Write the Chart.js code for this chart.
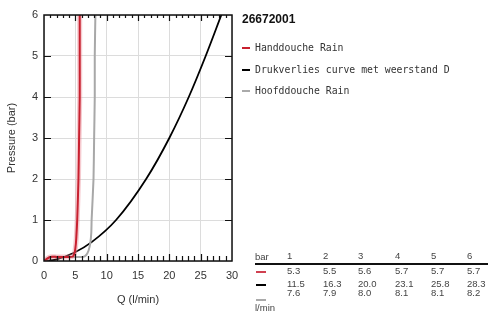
<!DOCTYPE html>
<html>
<head>
<meta charset="utf-8">
<script src="https://cdn.jsdelivr.net/npm/chart.js@4.4.1/dist/chart.umd.min.js"></script>
<style>
  body { margin: 0; background: #fff; }
  #wrap { position: relative; width: 500px; height: 322px; font-family: 'Liberation Sans', Arial, sans-serif; }
  #chart { position: absolute; left: 0; top: 0; }
  .t { position: absolute; white-space: nowrap; line-height: 12px; }
  .title { left: 242px; top: 12px; font-weight: bold; font-size: 12px; color: #111; }
  .leg { left: 255px; font-family: 'DejaVu Sans Mono', 'Liberation Mono', monospace; font-size: 9.8px; color: #333; }
  .mark { position: absolute; left: 242px; width: 8px; height: 2px; }
  .cell { font-size: 9.5px; color: #444; }
  .rule { position: absolute; left: 255px; top: 263px; width: 233px; height: 2px; background: #111; }
</style>
</head>
<body>
<div id="wrap">
  <canvas id="chart" width="500" height="322"></canvas>
</div>
<script>
// curves
const redQ = [0, 0.5, 1, 2, 3, 4, 4.6, 4.85, 5.0, 5.15, 5.3, 5.5, 5.6, 5.7, 5.7, 5.7]
const redP = [0, 0.06, 0.1, 0.1, 0.1, 0.1, 0.11, 0.18, 0.3, 0.55, 1, 2, 3, 4, 5, 6]
const grayQ = [0, 0.5, 1, 3, 5, 6.2, 6.7, 7.1, 7.4, 7.55, 7.6, 7.9, 8.0, 8.1, 8.1, 8.2]
const grayP = [0, 0.06, 0.1, 0.1, 0.1, 0.1, 0.14, 0.25, 0.45, 0.7, 1, 2, 3, 4, 5, 6]
const blackQ = [0, 2, 4.8, 7.6, 11.5, 16.3, 20.0, 23.1, 25.8, 28.3]
const blackP = [0, 0.04, 0.2, 0.46, 1, 2, 3, 4, 5, 6]

// table
const tableBar = [1, 2, 3, 4, 5, 6]
const tableRed = ['5.3', '5.5', '5.6', '5.7', '5.7', '5.7']
const tableBlack = ['11.5', '16.3', '20.0', '23.1', '25.8', '28.3']
const tableGray = ['7.6', '7.9', '8.0', '8.1', '8.1', '8.2']

const legendLabels = ['Handdouche Rain', 'Drukverlies curve met weerstand D', 'Hoofddouche Rain']
const legendColors = ['#c8202f', '#000', '#aaa']

function pts(q, p) {
  return q.map((v, i) => ({ x: v, y: p[i] }))
}

const wrap = document.getElementById('wrap')
function addText(cls, text, x, y) {
  const el = document.createElement('div')
  el.className = 't ' + cls
  el.textContent = text
  if (x !== null) el.style.left = x + 'px'
  el.style.top = (y - 6) + 'px'
  wrap.appendChild(el)
}
function addMark(color, x, y, w) {
  const el = document.createElement('div')
  el.className = 'mark'
  el.style.background = color
  el.style.left = x + 'px'
  el.style.top = (y - 1) + 'px'
  el.style.width = w + 'px'
  wrap.appendChild(el)
}

// legend
addText('title', '26672001', 242, 19)
const legY = [48, 70, 91]
legendLabels.forEach((l, i) => {
  addMark(legendColors[i], 242, legY[i], 8)
  addText('leg', l, 255, legY[i])
})

// table
const colX = [287, 323, 358, 395, 431, 467]
addText('cell', 'bar', 255, 257)
const rule = document.createElement('div')
rule.className = 'rule'
wrap.appendChild(rule)
tableBar.forEach((b, i) => {
  addText('cell', String(b), colX[i], 256)
  addText('cell', tableRed[i], colX[i], 271)
  addText('cell', tableBlack[i], colX[i], 284)
  addText('cell', tableGray[i], colX[i], 293)
})
addMark('#d04050', 256, 272, 10)
addMark('#000', 256, 285, 10)
addMark('#aaa', 256, 300, 10)
addText('cell', 'l/min', 255, 308)

const frameTicks = {
  id: 'frameTicks',
  afterDraw(chart) {
    const { ctx, chartArea: a, scales: { x, y } } = chart
    ctx.save()
    ctx.strokeStyle = '#111'
    ctx.lineWidth = 1.2
    ctx.beginPath()
    for (let q = 1; q < 30; q++) {
      const px = Math.round(x.getPixelForValue(q)) + 0.5
      const major = q % 5 === 0
      ctx.moveTo(px, a.bottom)
      ctx.lineTo(px, a.bottom - (major ? 7 : 5))
      ctx.moveTo(px, a.top)
      ctx.lineTo(px, a.top + (major ? 6 : 3))
    }
    for (let p = 1; p < 6; p++) {
      const py = Math.round(y.getPixelForValue(p)) + 0.5
      ctx.moveTo(a.left, py)
      ctx.lineTo(a.left + 7, py)
      ctx.moveTo(a.right, py)
      ctx.lineTo(a.right - 7, py)
    }
    ctx.stroke()
    ctx.lineWidth = 1.5
    ctx.strokeRect(a.left, a.top, a.right - a.left, a.bottom - a.top)
    ctx.restore()
  }
}

const tickFont = { family: "'Liberation Sans', Arial, sans-serif", size: 11 }

new Chart(document.getElementById('chart'), {
  type: 'scatter',
  data: {
    datasets: [
      { data: pts(redQ, redP), borderColor: '#c8202f', borderWidth: 2 },
      { data: pts(redQ, redP), borderColor: 'rgba(235, 140, 150, 0.45)', borderWidth: 5 },
      { data: pts(grayQ, grayP), borderColor: '#a8a8a8', borderWidth: 2 },
      { data: pts(blackQ, blackP), borderColor: '#000', borderWidth: 1.8, cubicInterpolationMode: 'monotone' }
    ]
  },
  options: {
    responsive: false,
    animation: false,
    showLine: true,
    elements: { point: { radius: 0 }, line: { tension: 0.2 } },
    layout: { padding: { left: 0, right: 268, top: 15, bottom: 0 } },
    plugins: { legend: { display: false }, tooltip: { enabled: false } },
    scales: {
      x: {
        type: 'linear',
        min: 0,
        max: 30,
        afterFit: s => { s.height = 61 },
        grid: { color: '#dcdcdc', drawTicks: false },
        border: { display: false },
        ticks: { stepSize: 5, padding: 8, color: '#333', font: tickFont, maxRotation: 0 },
        title: { display: true, text: 'Q (l/min)', color: '#333', font: tickFont, padding: { top: 0, bottom: 15 } }
      },
      y: {
        min: 0,
        max: 6,
        afterFit: s => { s.width = 44 },
        grid: { color: '#dcdcdc', drawTicks: false },
        border: { display: false },
        ticks: { stepSize: 1, padding: 6, color: '#333', font: tickFont },
        title: { display: true, text: 'Pressure (bar)', color: '#333', font: tickFont, padding: { top: 5, bottom: 0 } }
      }
    }
  },
  plugins: [frameTicks]
})
</script>
</body>
</html>
